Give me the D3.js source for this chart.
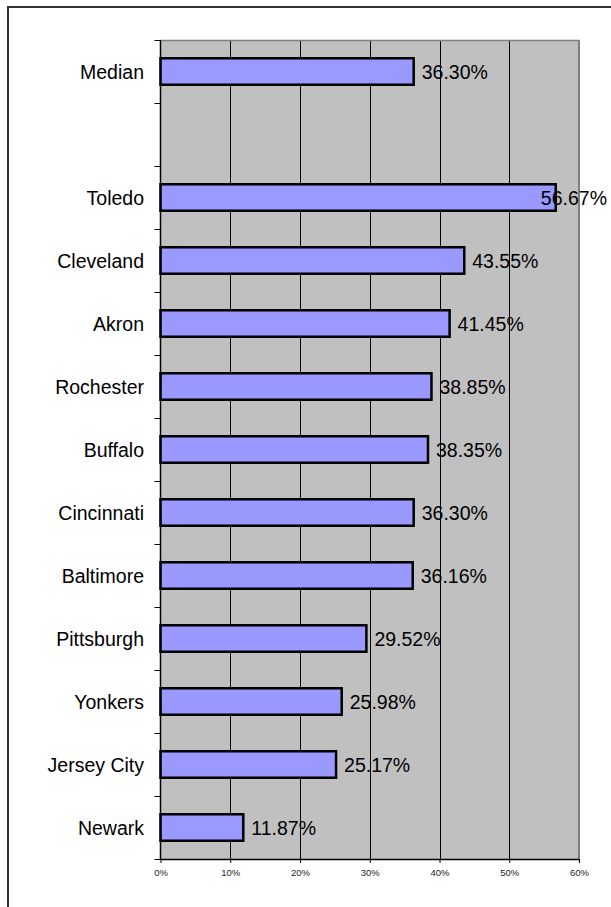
<!DOCTYPE html>
<html>
<head>
<meta charset="utf-8">
<script src="https://cdn.jsdelivr.net/npm/d3@7"></script>
<style>
  html, body { margin: 0; padding: 0; background: #fff; }
  svg { display: block; }
  text { font-family: Arial, "Liberation Sans", sans-serif; }
</style>
</head>
<body>
<svg id="chart" width="611" height="907"></svg>
<script>
// Share of population, by city (top to bottom); the empty entry is a spacer row
const categories = ["Median", "", "Toledo", "Cleveland", "Akron", "Rochester", "Buffalo",
  "Cincinnati", "Baltimore", "Pittsburgh", "Yonkers", "Jersey City", "Newark"];
const values = [36.30, null, 56.67, 43.55, 41.45, 38.85, 38.35,
  36.30, 36.16, 29.52, 25.98, 25.17, 11.87];
const xTicks = [0, 10, 20, 30, 40, 50, 60];

const svg = d3.select("#chart");
const W = 611;
const plot = { left: 160.5, top: 40, right: 579, bottom: 859 };
const labelSize = 19.5;

// Outer frame (runs past the right and bottom edges)
svg.append("rect")
  .attr("x", 8).attr("y", 7).attr("width", 700).attr("height", 1000)
  .attr("fill", "#fff").attr("stroke", "#333").attr("stroke-width", 2);

const x = d3.scaleLinear().domain([0, 60]).range([plot.left, plot.right]);
const y = d3.scaleBand().domain(d3.range(categories.length))
  .range([plot.top, plot.bottom]).paddingInner(0.58).paddingOuter(0.29);

// Plot background
svg.append("rect")
  .attr("x", plot.left).attr("y", plot.top)
  .attr("width", plot.right - plot.left).attr("height", plot.bottom - plot.top)
  .attr("fill", "#c0c0c0");

// Vertical gridlines
svg.append("g").selectAll("line").data(xTicks.slice(1, -1)).join("line")
  .attr("x1", d => Math.round(x(d)) + 0.5).attr("x2", d => Math.round(x(d)) + 0.5)
  .attr("y1", plot.top).attr("y2", plot.bottom)
  .attr("stroke", "#000").attr("stroke-width", 1);

// Top and right plot edges
svg.append("line").attr("x1", plot.left).attr("x2", plot.right + 1)
  .attr("y1", plot.top + 0.5).attr("y2", plot.top + 0.5)
  .attr("stroke", "#808080").attr("stroke-width", 1.5);
svg.append("line").attr("x1", plot.right).attr("x2", plot.right)
  .attr("y1", plot.top).attr("y2", plot.bottom)
  .attr("stroke", "#808080").attr("stroke-width", 2);

// Bars
const rows = categories.map((c, i) => ({ i, c, v: values[i] }));
svg.append("g").selectAll("rect").data(rows.filter(d => d.v != null)).join("rect")
  .attr("x", x(0)).attr("y", d => y(d.i))
  .attr("width", d => x(d.v) - x(0)).attr("height", y.bandwidth())
  .attr("fill", "#9999ff").attr("stroke", "#000").attr("stroke-width", 2.5);

// Value labels; a label that would run off the right edge is pulled back over its bar
svg.append("g").selectAll("text").data(rows.filter(d => d.v != null)).join("text")
  .attr("x", d => x(d.v) + 8).attr("y", d => y(d.i) + y.bandwidth() / 2)
  .attr("dy", "0.36em").attr("font-size", labelSize).attr("fill", "#000")
  .text(d => d.v.toFixed(2) + "%")
  .each(function (d) {
    const w = this.getComputedTextLength();
    const x0 = x(d.v) + 8;
    if (x0 + w > W - 4) d3.select(this).attr("x", W - 4 - w);
  });

// Category axis
const step = (plot.bottom - plot.top) / categories.length;
const yTickPos = d3.range(categories.length + 1).map(k => plot.top + k * step);
svg.append("g").selectAll("line").data(yTickPos).join("line")
  .attr("x1", plot.left - 6).attr("x2", plot.left)
  .attr("y1", d => Math.round(d) + 0.5).attr("y2", d => Math.round(d) + 0.5)
  .attr("stroke", "#000").attr("stroke-width", 1);
svg.append("line").attr("x1", plot.left).attr("x2", plot.left)
  .attr("y1", plot.top).attr("y2", plot.bottom + 1)
  .attr("stroke", "#000").attr("stroke-width", 1.5);
svg.append("g").selectAll("text").data(rows).join("text")
  .attr("x", 144).attr("y", d => y(d.i) + y.bandwidth() / 2)
  .attr("dy", "0.36em").attr("text-anchor", "end")
  .attr("font-size", labelSize).attr("fill", "#000")
  .text(d => d.c);

// Value axis
const xAxis = svg.append("g").attr("transform", `translate(0,${plot.bottom})`)
  .call(d3.axisBottom(x).tickValues(xTicks).tickSize(4).tickFormat(d => d + "%"));
xAxis.select(".domain").attr("stroke", "#000").attr("stroke-width", 1.5)
  .attr("d", `M${plot.left},0.5H${plot.right}`);
xAxis.selectAll(".tick line").attr("stroke", "#000");
xAxis.selectAll(".tick text")
  .attr("font-family", "Arial, 'Liberation Sans', sans-serif")
  .attr("font-size", 9.5).attr("fill", "#222").attr("dy", "1.05em");
</script>
</body>
</html>
